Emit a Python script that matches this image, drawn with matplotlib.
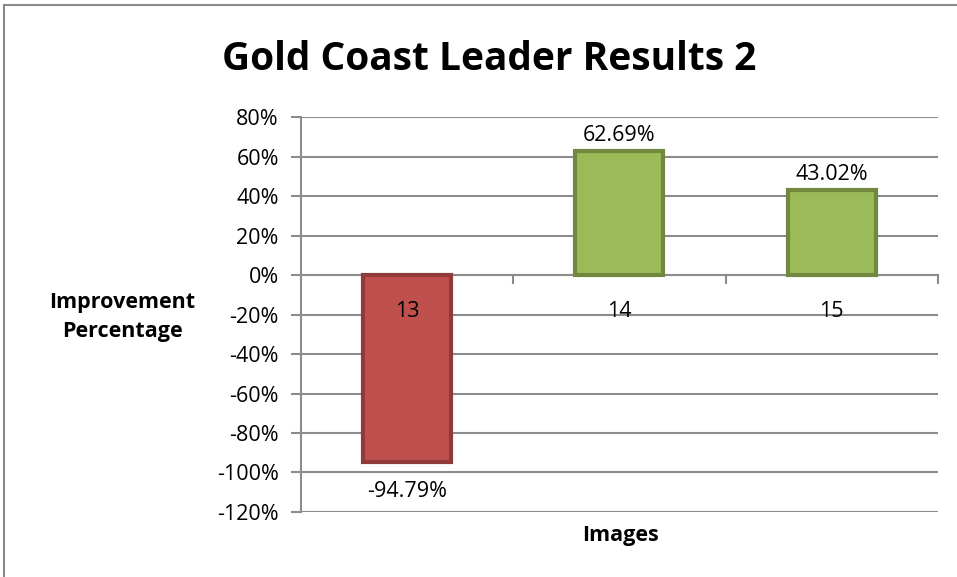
import matplotlib.pyplot as plt
import matplotlib.patches as mpatches
import numpy as np

categories = ['13', '14', '15']
values = [-94.79, 62.69, 43.02]
labels = ['-94.79%', '62.69%', '43.02%']
fills = ['#C0504D', '#9BBB59', '#9BBB59']
edges = ['#8E3B39', '#71893F', '#71893F']
yticks = [80, 60, 40, 20, 0, -20, -40, -60, -80, -100, -120]

plt.rcParams['font.family'] = ['Open Sans', 'DejaVu Sans']

fig = plt.figure(figsize=(9.57, 5.77), dpi=100)
ax = fig.add_axes([0.3145, 0.1127, 0.6655, 0.6843])

# outer chart border
fig.patches.append(mpatches.Rectangle((4 / 957, -0.01), 1.0, 1 - 5 / 577 + 0.01,
                                      transform=fig.transFigure, fill=False,
                                      edgecolor='#8a8a8a', linewidth=1.5))

x = np.arange(len(categories))
ax.bar(x, values, width=0.415, color=fills, edgecolor=edges, linewidth=3, zorder=3)

for xi, v, lab in zip(x, values, labels):
    if v >= 0:
        ax.text(xi, v + 2.5, lab, ha='center', va='bottom', fontsize=15.5, zorder=4)
    else:
        ax.text(xi, v - 15, lab, ha='center', va='center', fontsize=15.5, zorder=4)

# category labels next to the zero line
for xi, c in zip(x, categories):
    ax.text(xi, -18.5, c, ha='center', va='center', fontsize=15.5, zorder=4)

ax.set_xlim(-0.5, 2.5)
ax.set_ylim(-120, 80)
ax.set_yticks(yticks)
ax.set_yticklabels([f'{t}%' for t in yticks], fontsize=15.5)
ax.set_xticks([])
ax.yaxis.grid(True, color='#8c8c8c', linewidth=1.5, zorder=0)
ax.tick_params(axis='y', length=7, width=1.5, color='#8c8c8c', pad=9)

for s in ['top', 'right', 'bottom']:
    ax.spines[s].set_visible(False)
ax.spines['left'].set_color('#8c8c8c')
ax.spines['left'].set_linewidth(1.5)

# horizontal axis at zero with tick marks between categories
ax.axhline(0, color='#8c8c8c', linewidth=1.5, zorder=2)
for b in [0.5, 1.5, 2.5]:
    ax.plot([b, b], [0, -4], color='#8c8c8c', linewidth=1.5, clip_on=False, zorder=2)

fig.text(489 / 957, 1 - 60 / 577, 'Gold Coast Leader Results 2', ha='center', va='center',
         fontsize=28, fontweight='bold')
fig.text(122 / 957, 1 - 317 / 577, 'Improvement\nPercentage', ha='center', va='center',
         fontsize=15.5, fontweight='bold', linespacing=1.45)
fig.text(620 / 957, 1 - 535 / 577, 'Images', ha='center', va='center',
         fontsize=15.5, fontweight='bold')

fig.savefig('out.png', dpi=100)
